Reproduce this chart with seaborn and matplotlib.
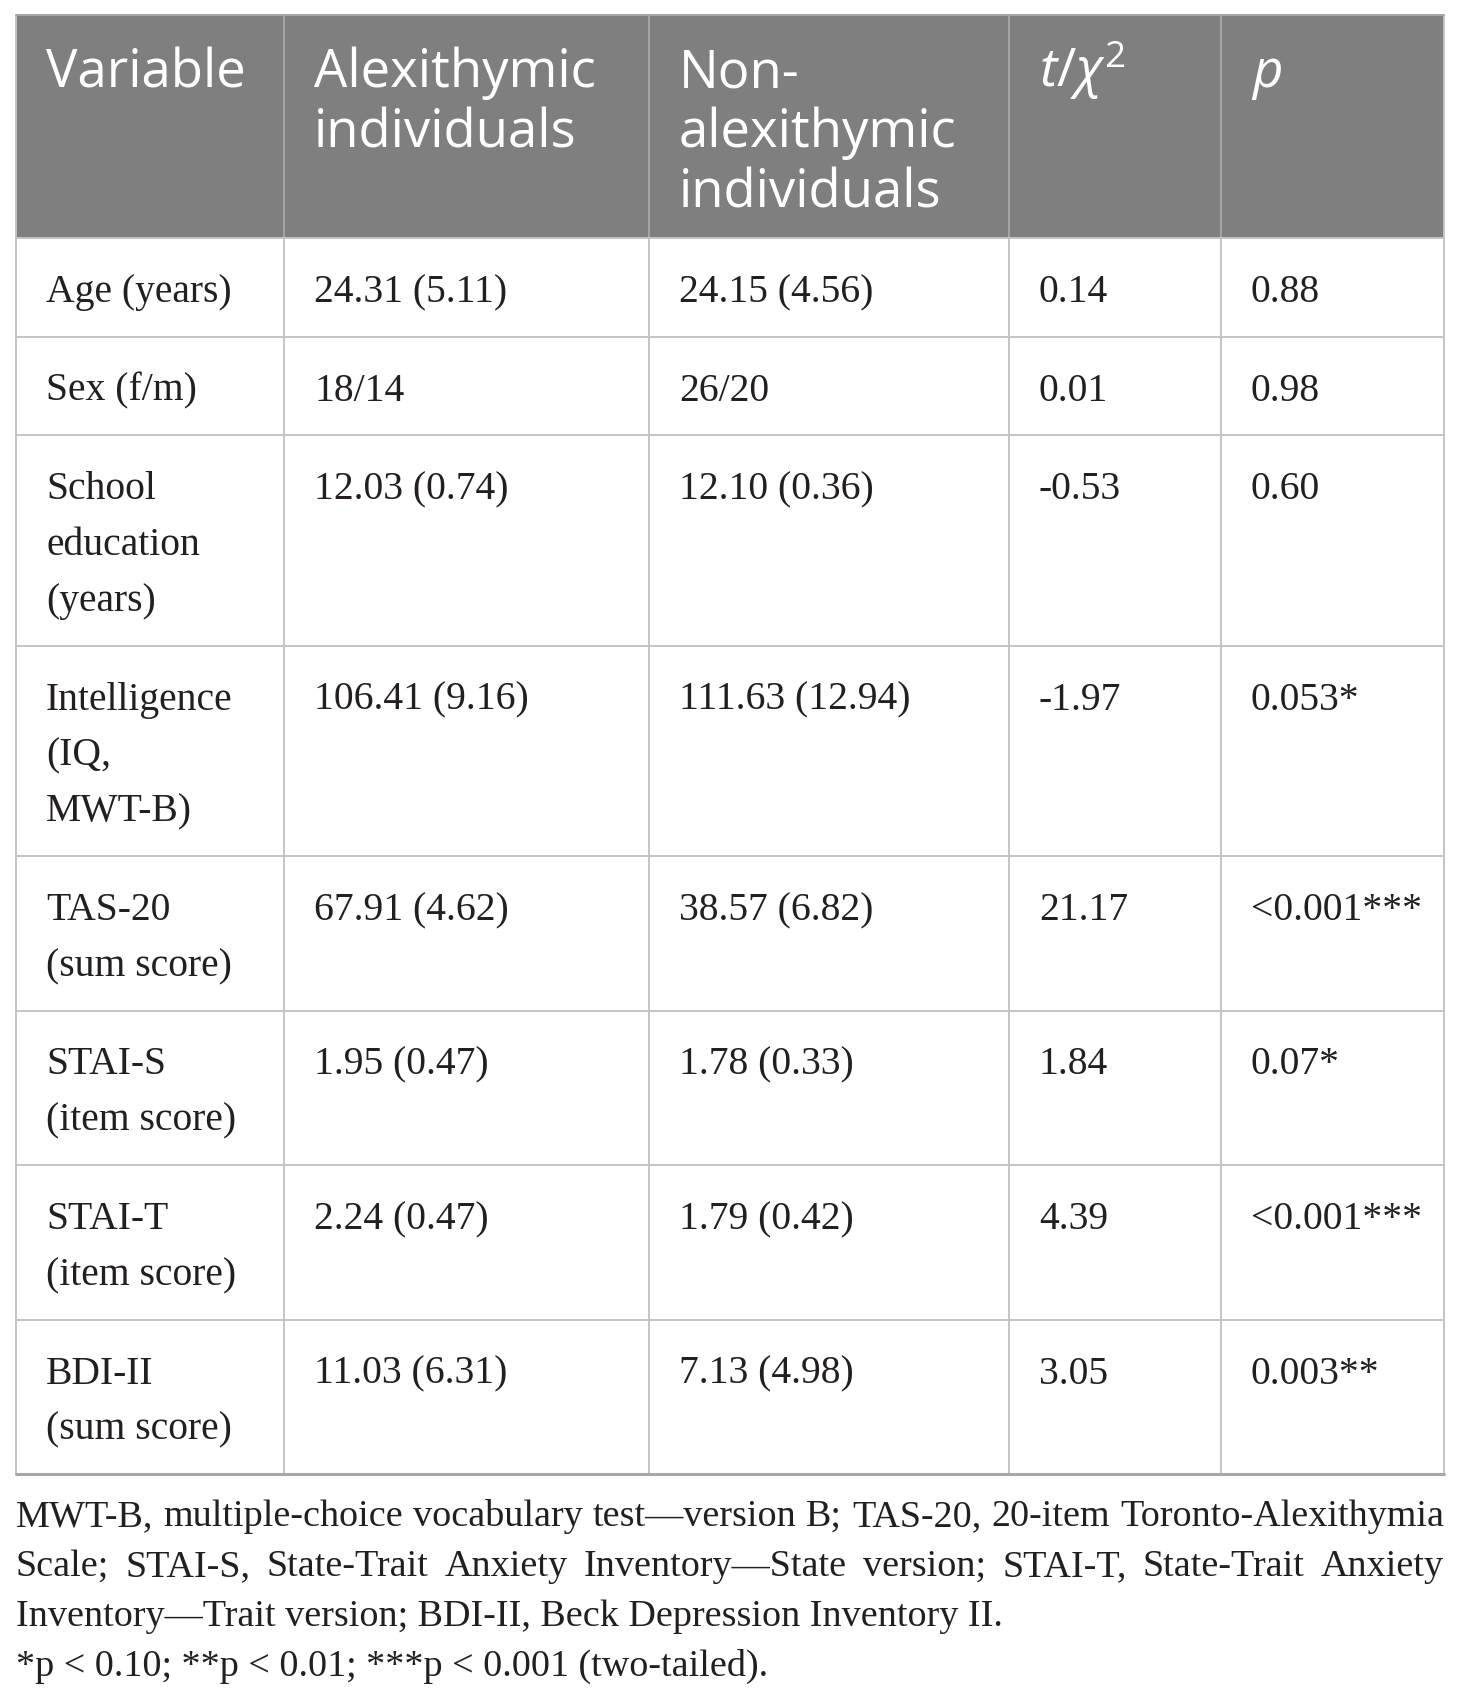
import matplotlib
matplotlib.use("Agg")
import matplotlib.pyplot as plt
import seaborn as sns
from matplotlib.patches import Rectangle

# table content
column_headers = ["Variable", "Alexithymic\nindividuals", "Non-\nalexithymic\nindividuals",
                  r"$t/\chi^2$", r"$p$"]
variables = ["Age (years)", "Sex (f/m)", "School\neducation\n(years)", "Intelligence\n(IQ,\nMWT-B)",
             "TAS-20\n(sum score)", "STAI-S\n(item score)", "STAI-T\n(item score)", "BDI-II\n(sum score)"]
alexithymic = ["24.31 (5.11)", "18/14", "12.03 (0.74)", "106.41 (9.16)", "67.91 (4.62)",
               "1.95 (0.47)", "2.24 (0.47)", "11.03 (6.31)"]
non_alexithymic = ["24.15 (4.56)", "26/20", "12.10 (0.36)", "111.63 (12.94)", "38.57 (6.82)",
                   "1.78 (0.33)", "1.79 (0.42)", "7.13 (4.98)"]
t_chi2 = ["0.14", "0.01", "-0.53", "-1.97", "21.17", "1.84", "4.39", "3.05"]
p_values = ["0.88", "0.98", "0.60", "0.053*", "<0.001***", "0.07*", "<0.001***", "0.003**"]

footnote_lines = [
    "MWT-B, multiple-choice vocabulary test\u2014version B; TAS-20, 20-item Toronto-Alexithymia",
    "Scale; STAI-S, State-Trait Anxiety Inventory\u2014State version; STAI-T, State-Trait Anxiety",
    "Inventory\u2014Trait version; BDI-II, Beck Depression Inventory II.",
    "*p < 0.10; **p < 0.01; ***p < 0.001 (two-tailed).",
]
justify_line = [True, True, False, False]

# layout (pixels)
W, H = 1460, 1700
col_widths = [268, 365, 360, 212, 223]
left, top = 16, 15
pad_x = 30
header_base, header_step = 72, 60
body_base, body_step = 64, 56
header_gray = "#7f7f7f"
grid_col = "#c4c4c4"
ink = "#231f20"
head_font = "Open Sans"
body_font = "Liberation Serif"

sns.set_theme(style="white")
plt.rcParams["mathtext.fontset"] = "custom"
plt.rcParams["mathtext.it"] = "Open Sans:italic"
plt.rcParams["mathtext.rm"] = "Open Sans"

fig = plt.figure(figsize=(W / 100, H / 100), dpi=100)
ax = fig.add_axes([0, 0, 1, 1])
ax.set_xlim(0, W)
ax.set_ylim(H, 0)
ax.axis("off")

col_x = [left]
for w in col_widths:
    col_x.append(col_x[-1] + w)

n_head = max(h.count("\n") + 1 for h in column_headers)
head_h = 43 + header_step * n_head
rows = list(zip(variables, alexithymic, non_alexithymic, t_chi2, p_values))
row_h = [42.5 + body_step * max(c.count("\n") + 1 for c in r) for r in rows]
row_y = [top + head_h]
for h in row_h:
    row_y.append(row_y[-1] + h)

# header band
ax.add_patch(Rectangle((col_x[0], top), col_x[-1] - col_x[0], head_h,
                       facecolor=header_gray, edgecolor="none"))
for j, txt in enumerate(column_headers):
    for k, line in enumerate(txt.split("\n")):
        ax.text(col_x[j] + pad_x, top + header_base + header_step * k, line,
                fontsize=38, family=head_font, color="white", va="baseline", ha="left")

# body cells
for i, r in enumerate(rows):
    for j, cell in enumerate(r):
        for k, line in enumerate(cell.split("\n")):
            ax.text(col_x[j] + pad_x, row_y[i] + body_base + body_step * k, line,
                    fontsize=28.5, family=body_font, color=ink, va="baseline", ha="left")

# grid lines
for x in col_x[1:-1]:
    ax.plot([x, x], [top, top + head_h], color="#a6a6a6", lw=1.4)
    ax.plot([x, x], [top + head_h, row_y[-1]], color=grid_col, lw=1.4)
for x in [col_x[0], col_x[-1]]:
    ax.plot([x, x], [top, row_y[-1]], color=grid_col, lw=1.4)
ax.plot([col_x[0], col_x[-1]], [top, top], color="#a6a6a6", lw=1.4)
for y in row_y[:-1]:
    ax.plot([col_x[0], col_x[-1]], [y, y], color=grid_col, lw=1.4)
ax.plot([col_x[0], col_x[-1]], [row_y[-1], row_y[-1]], color="#a8a8a8", lw=2.2)

# footnote, first lines justified to the table width
renderer = fig.canvas.get_renderer()
probe = ax.text(0, 0, footnote_lines[0], fontsize=26, family=body_font)
nat_w = probe.get_window_extent(renderer).width
probe.remove()
foot_size = min(29.0, 26.0 * (col_x[-1] - col_x[0] - 4) / nat_w)

foot_y0, foot_step = row_y[-1] + 52, 50
for li, line in enumerate(footnote_lines):
    y = foot_y0 + foot_step * li
    if not justify_line[li]:
        ax.text(col_x[0], y, line, fontsize=foot_size, family=body_font, color=ink,
                va="baseline", ha="left")
        continue
    words = line.split(" ")
    items = [ax.text(0, y, w, fontsize=foot_size, family=body_font, color=ink,
                     va="baseline", ha="left") for w in words]
    widths = [t.get_window_extent(renderer).width for t in items]
    gap = (col_x[-1] - col_x[0] - sum(widths)) / (len(words) - 1)
    x = col_x[0]
    for t, w in zip(items, widths):
        t.set_x(x)
        x += w + gap

fig.savefig("out.png", dpi=100, facecolor="white")
